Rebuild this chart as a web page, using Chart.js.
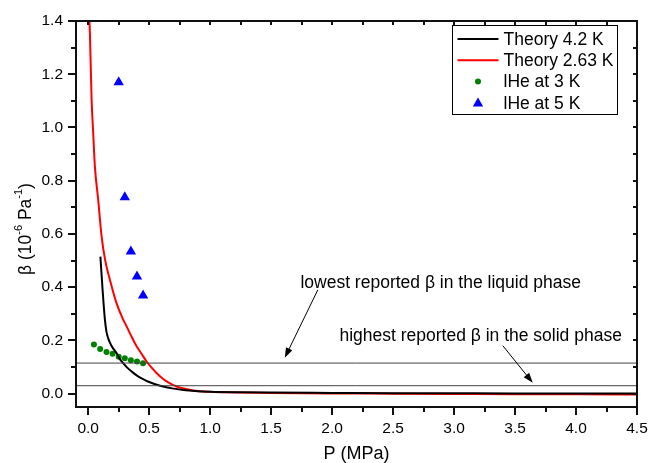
<!DOCTYPE html>
<html>
<head>
<meta charset="utf-8">
<script src="https://cdn.jsdelivr.net/npm/chart.js@4.4.0/dist/chart.umd.min.js"></script>
<style>
  html, body { margin: 0; padding: 0; background: #fff; }
  #wrap { position: relative; width: 648px; height: 463px; }
  #overlay { position: absolute; left: 0; top: 0; pointer-events: none; }
</style>
</head>
<body>
<div id="wrap"><canvas id="chart"></canvas><canvas id="overlay" width="648" height="463"></canvas></div>
<script>
// Theory 4.2 K
var theory42P = [0.10, 0.118, 0.137, 0.15, 0.165, 0.178, 0.20, 0.232, 0.26, 0.287, 0.32, 0.36, 0.40, 0.45, 0.50, 0.59, 0.70, 0.80, 0.90, 1.0, 1.25, 1.5, 2.0, 2.5, 3.0, 3.5, 4.0, 4.5];
var theory42B = [0.515, 0.39, 0.278, 0.232, 0.207, 0.192, 0.173, 0.153, 0.13, 0.115, 0.098, 0.082, 0.068, 0.055, 0.044, 0.030, 0.019, 0.013, 0.009, 0.007, 0.005, 0.004, 0.003, 0.002, 0.0015, 0.001, 0.0008, 0.0005];
// Theory 2.63 K
var theory263P = [0.006, 0.014, 0.028, 0.041, 0.055, 0.082, 0.11, 0.14, 0.178, 0.232, 0.28, 0.315, 0.36, 0.397, 0.44, 0.479, 0.52, 0.56, 0.60, 0.643, 0.69, 0.725, 0.80, 0.86, 1.0, 1.13, 1.5, 2.0, 2.5, 3.0, 3.5, 4.0, 4.5];
var theory263B = [1.45, 1.354, 1.104, 0.979, 0.853, 0.728, 0.59, 0.50, 0.428, 0.34, 0.285, 0.253, 0.21, 0.178, 0.148, 0.121, 0.098, 0.078, 0.061, 0.046, 0.034, 0.027, 0.018, 0.012, 0.007, 0.005, 0.003, 0.001, 0.0, -0.001, -0.002, -0.002, -0.003];
// lHe at 3 K
var he3P = [0.047, 0.098, 0.15, 0.20, 0.25, 0.30, 0.35, 0.40, 0.45];
var he3B = [0.185, 0.168, 0.157, 0.150, 0.139, 0.133, 0.126, 0.121, 0.114];
// lHe at 5 K
var he5P = [0.25, 0.30, 0.35, 0.40, 0.45];
var he5B = [1.17, 0.738, 0.534, 0.44, 0.369];
// reference levels
var liquidLow = 0.115;
var solidHigh = 0.03;

var xTicks = [0, 0.5, 1.0, 1.5, 2.0, 2.5, 3.0, 3.5, 4.0, 4.5];
var yTicks = [0, 0.2, 0.4, 0.6, 0.8, 1.0, 1.2, 1.4];
var xMin = -0.1, xMax = 4.5, yMin = -0.05, yMax = 1.4;

var FONT = "'Liberation Sans', Arial, sans-serif";

function pts(xs, ys) {
  var out = [];
  for (var i = 0; i < xs.length; i++) out.push({x: xs[i], y: ys[i]});
  return out;
}

var legendItems = [
  {label: 'Theory 4.2 K', type: 'line', color: '#000000'},
  {label: 'Theory 2.63 K', type: 'line', color: '#ff0000'},
  {label: 'lHe at 3 K', type: 'dot', color: '#008000'},
  {label: 'lHe at 5 K', type: 'tri', color: '#0000ff'}
];

var notes = [
  {text: 'lowest reported \u03b2 in the liquid phase', x: 1.74, y: 0.415, ax: 1.883, ay: 0.39, bx: 1.612, by: 0.135},
  {text: 'highest reported \u03b2 in the solid phase', x: 2.06, y: 0.217, ax: 3.40, ay: 0.18, bx: 3.645, by: 0.041}
];

function triangle(ctx, x, y, r) {
  ctx.beginPath();
  ctx.moveTo(x, y - r);
  ctx.lineTo(x + r * 0.866, y + r * 0.5);
  ctx.lineTo(x - r * 0.866, y + r * 0.5);
  ctx.closePath();
  ctx.fill();
}

function seg(c, x1, y1, x2, y2) {
  c.beginPath();
  c.moveTo(x1, y1);
  c.lineTo(x2, y2);
  c.stroke();
}

// frame, ticks, notes, legend and titles go on a second canvas above the chart
var decor = {
  id: 'decor',
  afterDraw: function(chart) {
    var c = document.getElementById('overlay').getContext('2d');
    var xs = chart.scales.x, ys = chart.scales.y;
    var L = Math.round(xs.getPixelForValue(xMin));
    var R = Math.round(xs.getPixelForValue(xMax));
    var T = Math.round(ys.getPixelForValue(yMax));
    var B = Math.round(ys.getPixelForValue(yMin));
    c.setTransform(1, 0, 0, 1, 0, 0);
    c.clearRect(0, 0, 648, 463);
    c.save();
    c.fillStyle = '#111';

    // box (2px) and tick marks
    c.fillRect(L - 1, T - 1, R - L + 2, 2);
    c.fillRect(L - 1, B - 1, R - L + 2, 2);
    c.fillRect(L - 1, T - 1, 2, B - T + 2);
    c.fillRect(R - 1, T - 1, 2, B - T + 2);
    for (var k = 0; k <= 18; k++) {
      var px = Math.round(xs.getPixelForValue(k * 0.25));
      c.fillRect(px - 1, B + 1, 2, k % 2 === 0 ? 7 : 4);
      c.fillRect(px - 1, T + 1, 2, 3);
    }
    for (var j = 0; j <= 14; j++) {
      var py = Math.round(ys.getPixelForValue(j * 0.1));
      var len = j % 2 === 0 ? 7 : 4;
      c.fillRect(L - 1 - len, py - 1, len, 2);
      c.fillRect(R - 4, py - 1, 3, 2);
    }

    c.fillStyle = '#000';
    c.strokeStyle = '#000';
    c.lineWidth = 1;

    // notes with arrows
    c.font = '17.5px ' + FONT;
    c.textBaseline = 'middle';
    c.textAlign = 'left';
    notes.forEach(function(n) {
      c.fillText(n.text, xs.getPixelForValue(n.x), ys.getPixelForValue(n.y));
      var x1 = xs.getPixelForValue(n.ax), y1 = ys.getPixelForValue(n.ay);
      var x2 = xs.getPixelForValue(n.bx), y2 = ys.getPixelForValue(n.by);
      var ang = Math.atan2(y2 - y1, x2 - x1);
      seg(c, x1, y1, x2 - 8 * Math.cos(ang), y2 - 8 * Math.sin(ang));
      c.beginPath();
      c.moveTo(x2, y2);
      c.lineTo(x2 - 10 * Math.cos(ang) + 3.5 * Math.sin(ang), y2 - 10 * Math.sin(ang) - 3.5 * Math.cos(ang));
      c.lineTo(x2 - 10 * Math.cos(ang) - 3.5 * Math.sin(ang), y2 - 10 * Math.sin(ang) + 3.5 * Math.cos(ang));
      c.closePath();
      c.fill();
    });

    // legend
    var tw = 0;
    legendItems.forEach(function(it) { tw = Math.max(tw, c.measureText(it.label).width); });
    var bw = Math.round(5 + 41 + 5 + tw + 4), bh = 89;
    var bx = Math.round(R - 20 - bw) + 0.5, by = T + 4.5;
    c.fillStyle = '#fff';
    c.fillRect(bx, by, bw, bh);
    c.strokeRect(bx, by, bw, bh);
    legendItems.forEach(function(it, i) {
      var cy = by + 13.5 + i * 21.3;
      var lx = bx + 5;
      if (it.type === 'line') {
        c.strokeStyle = it.color;
        c.lineWidth = 2;
        seg(c, lx, cy, lx + 41, cy);
      } else if (it.type === 'dot') {
        c.fillStyle = it.color;
        c.beginPath(); c.arc(lx + 20.5, cy, 3, 0, Math.PI * 2); c.fill();
      } else {
        c.fillStyle = it.color;
        triangle(c, lx + 20.5, cy + 0.5, 6);
      }
      c.fillStyle = '#000';
      c.fillText(it.label, lx + 46, cy + 1);
    });

    // axis titles
    c.textAlign = 'center';
    c.textBaseline = 'alphabetic';
    c.font = '18px ' + FONT;
    c.fillText('P (MPa)', (L + R) / 2, 459);

    c.translate(26, 229);
    c.rotate(-Math.PI / 2);
    var parts = [
      {t: '\u03b2 (10', s: 17.5, dy: 0},
      {t: '-6', s: 11, dy: -7},
      {t: ' Pa', s: 17.5, dy: 0},
      {t: '-1', s: 11, dy: -7},
      {t: ')', s: 17.5, dy: 0}
    ];
    var total = 0;
    parts.forEach(function(p) { c.font = p.s + 'px ' + FONT; p.w = c.measureText(p.t).width; total += p.w; });
    var cx = -total / 2;
    c.textAlign = 'left';
    c.textBaseline = 'middle';
    parts.forEach(function(p) { c.font = p.s + 'px ' + FONT; c.fillText(p.t, cx, p.dy); cx += p.w; });
    c.restore();
  }
};

new Chart(document.getElementById('chart'), {
  type: 'scatter',
  data: {
    datasets: [
      {label: 'lowest liquid', type: 'line', data: pts([xMin, xMax], [liquidLow, liquidLow]), borderColor: '#444', borderWidth: 1, pointRadius: 0},
      {label: 'highest solid', type: 'line', data: pts([xMin, xMax], [solidHigh, solidHigh]), borderColor: '#444', borderWidth: 1, pointRadius: 0},
      {label: 'Theory 4.2 K', type: 'line', data: pts(theory42P, theory42B), borderColor: '#000', borderWidth: 2, pointRadius: 0, cubicInterpolationMode: 'monotone'},
      {label: 'Theory 2.63 K', type: 'line', data: pts(theory263P, theory263B), borderColor: '#ff0000', borderWidth: 2, pointRadius: 0, cubicInterpolationMode: 'monotone'},
      {label: 'lHe at 3 K', data: pts(he3P, he3B), backgroundColor: '#008000', borderWidth: 0, pointRadius: 3, pointStyle: 'circle'},
      {label: 'lHe at 5 K', data: pts(he5P, he5B), backgroundColor: '#0000ff', borderWidth: 0, pointRadius: 6, pointStyle: 'triangle'}
    ]
  },
  options: {
    responsive: true,
    maintainAspectRatio: false,
    animation: false,
    layout: {padding: {top: 21, right: 11, left: 0, bottom: 0}},
    plugins: {legend: {display: false}, tooltip: {enabled: false}},
    scales: {
      x: {
        type: 'linear', min: xMin, max: xMax,
        afterBuildTicks: function(s) { s.ticks = xTicks.map(function(v) { return {value: v}; }); },
        afterFit: function(s) { s.height = 56; s.paddingLeft = 0; s.paddingRight = 0; },
        grid: {display: false, drawTicks: false},
        border: {display: false},
        ticks: {color: '#000', font: {family: FONT, size: 15.5}, padding: 12, maxRotation: 0, autoSkip: false,
          callback: function(v) { return Number(v).toFixed(1); }}
      },
      y: {
        type: 'linear', min: yMin, max: yMax,
        afterBuildTicks: function(s) { s.ticks = yTicks.map(function(v) { return {value: v}; }); },
        afterFit: function(s) { s.width = 76; s.paddingTop = 0; s.paddingBottom = 0; },
        grid: {display: false, drawTicks: false},
        border: {display: false},
        ticks: {color: '#000', font: {family: FONT, size: 15.5}, padding: 13, autoSkip: false,
          callback: function(v) { return Number(v).toFixed(1); }}
      }
    }
  },
  plugins: [decor]
});
</script>
</body>
</html>
